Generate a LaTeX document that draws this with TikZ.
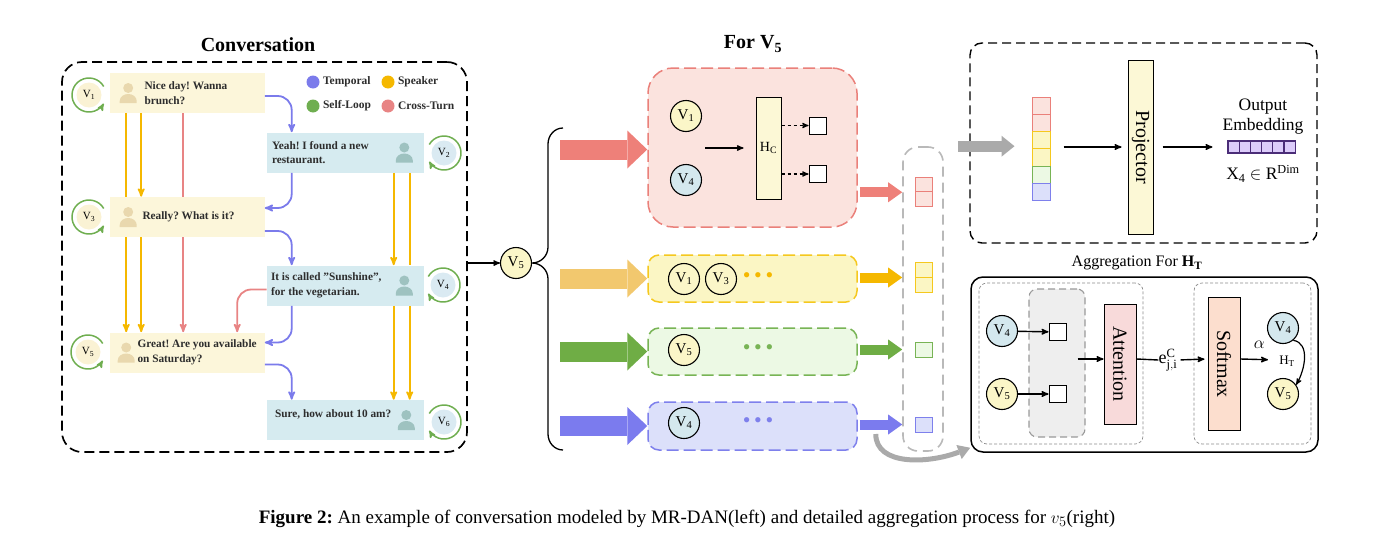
\documentclass[tikz,border=0pt]{standalone}
\usepackage{fontspec}
\setmainfont{Liberation Serif}
\usepackage{graphicx}
\usepackage{tikz}
\usetikzlibrary{arrows,arrows.meta,positioning,calc}
\frenchspacing
\definecolor{uttyellow}{RGB}{252,246,218}
\definecolor{uttblue}{RGB}{214,235,240}
\definecolor{iconyellow}{RGB}{233,216,174}
\definecolor{iconblue}{RGB}{158,194,192}
\definecolor{turnyellow}{RGB}{250,242,212}
\definecolor{turnblue}{RGB}{218,234,242}
\definecolor{tempblue}{RGB}{123,123,235}
\definecolor{spkyellow}{RGB}{245,184,0}
\definecolor{loopgreen}{RGB}{111,174,80}
\definecolor{crossred}{RGB}{232,132,132}
\definecolor{txtgray}{RGB}{45,45,45}
\definecolor{redfill}{RGB}{251,227,222}
\definecolor{redline}{RGB}{234,128,122}
\definecolor{redarrow}{RGB}{238,128,121}
\definecolor{yelfill}{RGB}{251,246,196}
\definecolor{yelline}{RGB}{245,200,30}
\definecolor{yelarrow}{RGB}{242,200,110}
\definecolor{grnfill}{RGB}{236,249,228}
\definecolor{grnline}{RGB}{120,180,85}
\definecolor{grnarrow}{RGB}{111,173,69}
\definecolor{blufill}{RGB}{220,224,250}
\definecolor{bluline}{RGB}{126,128,236}
\definecolor{bluarrow}{RGB}{123,123,238}
\definecolor{nodeyellow}{RGB}{251,246,200}
\definecolor{nodeblue}{RGB}{212,232,238}
\definecolor{hcfill}{RGB}{252,248,214}
\definecolor{attfill}{RGB}{248,218,218}
\definecolor{softfill}{RGB}{252,222,206}
\definecolor{embfill}{RGB}{220,204,250}
\definecolor{embline}{RGB}{75,45,120}
\definecolor{grayarrow}{RGB}{170,170,170}
\definecolor{colline}{RGB}{185,185,185}
\definecolor{grayfill}{RGB}{238,238,238}
\newcommand{\vlab}[1]{V\textsubscript{#1}}
\tikzset{person/.pic={
  \fill[#1] (0,-5) circle[radius=5pt];
  \fill[#1] (-8.5,10) -- (-8.5,8) to[out=90,in=180] (0,1) to[out=0,in=90] (8.5,8) -- (8.5,10) -- cycle;
}}

\begin{document}
\begin{tikzpicture}[>=stealth',x=1pt,y=-1pt,semithick]
 \tikzstyle{heading}=[inner sep=0pt,font=\fontsize{20}{24}\selectfont\bfseries]
 \tikzstyle{convbox}=[rectangle,draw,line width=1.7pt,dash pattern=on 10pt off 5pt,rounded corners=20pt,minimum width=405pt,minimum height=390pt]
 \tikzstyle{uttY}=[rectangle,fill=uttyellow,minimum width=155pt,minimum height=40pt,inner sep=0pt]
 \tikzstyle{uttB}=[rectangle,fill=uttblue,minimum width=157pt,minimum height=40pt,inner sep=0pt]
 \tikzstyle{say}=[anchor=west,align=left,inner sep=0pt,text=txtgray,font=\fontsize{11.3}{14.5}\selectfont\bfseries]
 \tikzstyle{vleft}=[circle,minimum size=25pt,inner sep=0pt,font=\fontsize{11}{12}\selectfont]
 \tikzstyle{selfloop}=[->,draw=loopgreen,line width=1.5pt]
 \tikzstyle{temporal}=[->,draw=tempblue,line width=1.8pt,rounded corners=14pt]
 \tikzstyle{speaker}=[draw=spkyellow,line width=1.8pt]
 \tikzstyle{crossturn}=[draw=crossred,line width=1.8pt,rounded corners=14pt]
 \tikzstyle{legdot}=[circle,minimum size=13pt,inner sep=0pt]
 \tikzstyle{legtext}=[inner sep=0pt,text=txtgray,font=\fontsize{11.5}{13}\selectfont\bfseries]
 \tikzstyle{vnode}=[circle,draw,line width=1.1pt,minimum size=31pt,inner sep=0pt,font=\fontsize{15}{17}\selectfont]
 \tikzstyle{relbox}=[rectangle,line width=1.5pt,dash pattern=on 12pt off 5pt,rounded corners=11pt,minimum width=209pt,minimum height=47pt]
 \tikzstyle{bigarrow}=[line width=20pt,-{Triangle[length=20pt,width=38pt,line width=0pt]}]
 \tikzstyle{midarrow}=[line width=10pt,shorten <=2pt,-{Triangle[length=14pt,width=20pt,line width=0pt]}]
 \tikzstyle{block}=[rectangle,draw,line width=1pt,inner sep=0pt,font=\fontsize{20}{24}\selectfont]
 \tikzstyle{slot}=[rectangle,draw,fill=white,line width=1pt,minimum size=17pt,inner sep=0pt]
 \tikzstyle{cell}=[rectangle,line width=1pt,minimum width=17pt,inner sep=0pt]
 \tikzstyle{ellip}=[inner sep=0pt,font=\fontsize{22}{24}\selectfont]
 \tikzstyle{labeltext}=[inner sep=0pt,font=\fontsize{17.5}{20}\selectfont]
 \tikzstyle{innerbox}=[rectangle,draw=black!45,line width=0.7pt,dash pattern=on 3pt off 2pt,rounded corners=8pt]

 % conversation graph
 \node[convbox] (conv) at (264.5,257) {};
 \node[heading] (convt) at (258,45) {Conversation};

 \node[uttY] (u1) at (187,93) {};
 \node[uttB] (u2) at (345.5,152.5) {};
 \node[uttY] (u3) at (187,217) {};
 \node[uttB] (u4) at (345.5,285.5) {};
 \node[uttY] (u5) at (187,352.5) {};
 \node[uttB] (u6) at (345.5,420) {};
 \pic at ([xshift=19pt]u1.west) {person=iconyellow};
 \pic at ([xshift=19pt]u3.west) {person=iconyellow};
 \pic at ([xshift=17pt]u5.west) {person=iconyellow};
 \pic at ([xshift=-20pt]u2.east) {person=iconblue};
 \pic at ([xshift=-20pt]u4.east) {person=iconblue};
 \pic at ([xshift=-18pt]u6.east) {person=iconblue};
 \node[say] (s1) at ([xshift=35pt]u1.west) {Nice day! Wanna\\brunch?};
 \node[say] (s2) at ([xshift=5pt]u2.west) {Yeah! I found a new\\restaurant.};
 \node[say] (s3) at ([xshift=33pt]u3.west) {Really? What is it?};
 \node[say] (s4) at ([xshift=4pt]u4.west) {It is called ''Sunshine'',\\for the vegetarian.};
 \node[say] (s5) at ([xshift=28pt]u5.west) {Great! Are you available\\on Saturday?};
 \node[say] (s6) at ([xshift=8pt,yshift=6pt]u6.west) {Sure, how about 10 am?};

 \node[vleft,fill=turnyellow] (v1) at (89,95) {\vlab1};
 \node[vleft,fill=turnblue] (v2) at (444,153) {\vlab2};
 \node[vleft,fill=turnyellow] (v3) at (89,217) {\vlab3};
 \node[vleft,fill=turnblue] (v4) at (443,285) {\vlab4};
 \node[vleft,fill=turnyellow] (v5) at (88,352) {\vlab5};
 \node[vleft,fill=turnblue] (v6) at (444,422) {\vlab6};
 \foreach \v in {v1,v3,v5}
   \draw[selfloop] ([shift={(30:17pt)}]\v.center) arc[start angle=30,end angle=330,radius=17pt];
 \foreach \v in {v2,v4,v6}
   \draw[selfloop] ([shift={(150:17pt)}]\v.center) arc[start angle=150,end angle=-150,radius=17pt];

 % legend
 \node[legdot,fill=tempblue] (lt) at (313,82) {};
 \node[legtext,right=3pt of lt] {Temporal};
 \node[legdot,fill=spkyellow] (ls) at (388,82) {};
 \node[legtext,right=3pt of ls] {Speaker};
 \node[legdot,fill=loopgreen] (ll) at (313,106) {};
 \node[legtext,right=3pt of ll] {Self-Loop};
 \node[legdot,fill=crossred] (lc) at (388,106) {};
 \node[legtext,right=3pt of lc] {Cross-Turn};

 % edges
 \draw[temporal] ([yshift=-3pt]u1.east) -| ([xshift=25pt]u2.north west);
 \draw[temporal] ([xshift=25pt]u2.south west) |- ([yshift=9pt]u3.east);
 \draw[temporal] ([yshift=-14pt]u3.east) -| ([xshift=25pt]u4.north west);
 \draw[temporal] ([xshift=25pt]u4.south west) |- ([yshift=10pt]u5.east);
 \draw[temporal] ([yshift=-12pt]u5.east) -| ([xshift=25pt]u6.north west);
 \draw[speaker] ([xshift=17pt]u1.south west) -- ([xshift=17pt]u3.north west);
 \draw[speaker,->] ([xshift=32pt]u1.south west) -- ([xshift=32pt]u3.north west);
 \draw[speaker,->] ([xshift=17pt]u3.south west) -- ([xshift=17pt]u5.north west);
 \draw[speaker,->] ([xshift=32pt]u3.south west) -- ([xshift=32pt]u5.north west);
 \draw[crossturn] ([xshift=74pt]u1.south west) -- ([xshift=74pt]u3.north west);
 \draw[crossturn,->] ([xshift=74pt]u3.south west) -- ([xshift=74pt]u5.north west);
 \draw[crossturn,->] ([yshift=-4pt]u4.west) -| ([xshift=128pt]u5.north west);
 \draw[speaker,->] ([xshift=127pt]u2.south west) -- ([xshift=127pt]u4.north west);
 \draw[speaker] ([xshift=143pt]u2.south west) -- ([xshift=143pt]u4.north west);
 \draw[speaker,->] ([xshift=127pt]u4.south west) -- ([xshift=127pt]u6.north west);
 \draw[speaker,->] ([xshift=143pt]u4.south west) -- ([xshift=143pt]u6.north west);

 % relations for v5
 \node[vnode,fill=nodeyellow] (hub) at (516,263) {\vlab5};
 \draw[->,line width=1.3pt] (conv.east |- hub) -- (hub);
 \draw[line width=1.3pt] (563,128) to[out=180,in=90] (548,144) -- (548,247) to[out=-90,in=0] (532,263)
   to[out=0,in=90] (548,279) -- (548,434) to[out=-90,in=180] (563,450);
 \node[heading] (fort) at (753,44) {For \vlab5};

 \node[relbox,draw=redline,fill=redfill,minimum height=159pt,rounded corners=25pt] (rbox) at (752.5,147.5) {};
 \node[relbox,draw=yelline,fill=yelfill] (ybox) at (752.5,278.5) {};
 \node[relbox,draw=grnline,fill=grnfill] (gbox) at (752.5,351.5) {};
 \node[relbox,draw=bluline,fill=blufill,minimum height=48pt] (bbox) at (752.5,426) {};
 \draw[bigarrow,draw=redarrow] ([xshift=-87pt,yshift=-2pt]rbox.west) -- ([yshift=-2pt]rbox.west);
 \draw[bigarrow,draw=yelarrow] ([xshift=-87pt]ybox.west) -- (ybox.west);
 \draw[bigarrow,draw=grnarrow] ([xshift=-87pt]gbox.west) -- (gbox.west);
 \draw[bigarrow,draw=bluarrow] ([xshift=-87pt]bbox.west) -- (bbox.west);

 \node[vnode,fill=nodeyellow] (rv1) at (686,116) {\vlab1};
 \node[vnode,fill=nodeblue] (rv4) at (686,180) {\vlab4};
 \node[block,fill=hcfill,minimum width=25pt,minimum height=102pt,font=\fontsize{14}{16}\selectfont] (hc) at (768.5,148) {H\textsubscript{C}};
 \draw[->,line width=1.3pt,shorten >=12pt] ([xshift=19pt]$(rv1)!0.5!(rv4)$) -- (hc.west);
 \node[slot] (sq1) at (817.5,125.5) {};
 \node[slot] (sq2) at (817.5,174) {};
 \draw[->,dashed,line width=1.2pt] (hc.east |- sq1) -- (sq1);
 \draw[->,dashed,line width=1.2pt] (hc.east |- sq2) -- (sq2);

 \node[vnode,fill=nodeyellow] (yv1) at (684,279) {\vlab1};
 \node[vnode,fill=nodeyellow] (yv3) at (721,279) {\vlab3};
 \node[ellip,text=spkyellow] (yd) at (758,278) {\textbullet\,\textbullet\,\textbullet};
 \node[vnode,fill=nodeyellow] (gv5) at (684,350) {\vlab5};
 \node[ellip,text=grnline] (gd) at (758,350) {\textbullet\,\textbullet\,\textbullet};
 \node[vnode,fill=nodeblue] (bv) at (684,423) {\vlab4};
 \node[ellip,text=bluline] (bd) at (758,423) {\textbullet\,\textbullet\,\textbullet};

 % gathered vectors
 \node[rectangle,draw=colline,line width=1.6pt,dash pattern=on 10pt off 6pt,rounded corners=15pt,minimum width=40pt,minimum height=304pt] (col) at (923,299) {};
 \node[cell,draw=redline,fill=redfill,minimum height=14.5pt] (rc1) at (923.5,184.5) {};
 \node[cell,draw=redline,fill=redfill,minimum height=14.5pt] (rc2) at (923.5,199) {};
 \node[cell,draw=yelline,fill=yelfill,minimum height=15pt] (yc1) at (923.5,269.5) {};
 \node[cell,draw=yelline,fill=yelfill,minimum height=15pt] (yc2) at (923.5,284.5) {};
 \node[cell,draw=grnline,fill=grnfill,minimum height=15pt] (gc1) at (923.5,349.5) {};
 \node[cell,draw=bluline,fill=blufill,minimum height=15pt] (bc1) at (923.5,424.5) {};
 \draw[midarrow,draw=redarrow] (rbox.east |- rc1.south) -- (col.west |- rc1.south);
 \draw[midarrow,draw=spkyellow] (ybox.east |- yc1.south) -- (col.west |- yc1.south);
 \draw[midarrow,draw=grnarrow] (gbox.east |- gc1) -- (col.west |- gc1);
 \draw[midarrow,draw=bluarrow] (bbox.east |- bc1) -- (col.west |- bc1);

 % projector
 \node[rectangle,draw,line width=1.4pt,dash pattern=on 9pt off 5pt,rounded corners=12pt,minimum width=347pt,minimum height=200pt] (pbox) at (1143.5,143) {};
 \foreach \f/\d [count=\i] in {redfill/redline,redfill/redline,yelfill/yelline,yelfill/yelline,grnfill/grnline,blufill/bluline}
   \node[cell,fill=\f,draw=\d,minimum width=18pt,minimum height=17.3pt] (st\i) at (1041,{97+17.3*(\i-0.5)}) {};
 \draw[draw=grayarrow,line width=11pt,shorten <=14pt,shorten >=17pt,-{Triangle[length=13pt,width=21pt,line width=0pt]}]
   (col.north east) -- (col.north east -| st1.west);
 \node[block,fill=hcfill,minimum width=25pt,minimum height=174pt] (proj) at (1140.5,147) {\rotatebox{-90}{Projector}};
 \draw[->,line width=1.4pt,shorten <=13pt,shorten >=6pt] (st1.east |- proj) -- (proj.west);
 \foreach \i in {1,...,6}
   \node[rectangle,draw=embline,fill=embfill,line width=1.1pt,minimum width=11.2pt,minimum height=12pt,inner sep=0pt] (e\i) at ({1228+11.2*(\i-0.5)},147) {};
 \draw[->,line width=1.4pt,shorten <=9pt,shorten >=15pt] (proj.east) -- (e1.west);
 \node[labeltext,align=center] (oe) at (1263,117) {Output\\Embedding};
 \node[labeltext] (xdim) at (1263,174) {X\textsubscript{4} $\in$ R\textsuperscript{Dim}};

 % aggregation
 \node[inner sep=0pt,font=\fontsize{16}{19}\selectfont] (aggt) at (1137,263) {Aggregation For \textbf{H\textsubscript{T}}};
 \node[rectangle,draw,line width=1.5pt,rounded corners=12pt,minimum width=347pt,minimum height=175pt] (agg) at (1144.5,364.5) {};
 \node[innerbox,minimum width=164pt,minimum height=161pt] (ina) at (1061,363.5) {};
 \node[innerbox,minimum width=117pt,minimum height=161pt] (inb) at (1252.5,363.5) {};
 \node[rectangle,draw=black!40,fill=grayfill,line width=1.1pt,dash pattern=on 7pt off 4pt,rounded corners=8pt,minimum width=56pt,minimum height=148pt] (gbx) at (1057,363) {};
 \node[vnode,fill=nodeblue] (av4) at (1002,331) {\vlab4};
 \node[vnode,fill=nodeyellow] (av5) at (1002,394) {\vlab5};
 \node[slot] (as4) at (1057.5,332) {};
 \node[slot] (as5) at (1057.5,394) {};
 \draw[->,line width=1.4pt] (av4) -- (as4);
 \draw[->,line width=1.4pt] (av5) -- (as5);
 \node[block,fill=attfill,minimum width=32pt,minimum height=120pt] (att) at (1120,364) {\rotatebox{-90}{Attention}};
 \draw[->,line width=1.4pt] ([xshift=-8pt,yshift=5pt]gbx.east |- att) -- ([yshift=5pt]att.west);
 \node[inner sep=0pt,font=\fontsize{18}{22}\selectfont] (eji) at (1168,360) {$\mathrm{e}^{\mathrm{C}}_{\mathrm{j,i}}$};
 \draw[line width=1.4pt] ([yshift=5pt]att.east) -- (eji.west);
 \node[block,fill=softfill,minimum width=32pt,minimum height=133pt] (soft) at (1224,364) {\rotatebox{-90}{Softmax}};
 \draw[->,line width=1.4pt,shorten <=3pt,shorten >=3pt] (eji.east) -- ([yshift=5pt]soft.west);
 \node[vnode,fill=nodeblue] (bv4) at (1283,328) {\vlab4};
 \node[vnode,fill=nodeyellow] (bv5) at (1283,394) {\vlab5};
 \node[inner sep=1pt,font=\fontsize{13}{15}\selectfont] (ht) at (1287,361) {H\textsubscript{T}};
 \draw[->,line width=1.4pt,shorten >=10pt] ([yshift=5pt]soft.east) -- (ht.west |- eji) node[midway,above=7pt,font=\fontsize{16}{18}\selectfont] {$\alpha$};
 \draw[->,line width=1.2pt] (bv4.-50) to[out=-10,in=60] (bv5.35);
 \draw[draw=grayarrow,line width=5pt,-{Triangle[length=12pt,width=15pt,line width=0pt]}]
   ([xshift=18pt,yshift=-8pt]bbox.east) .. controls +(0,32) and +(-42,16) .. ([yshift=5pt]agg.south west);

 \node[font=\fontsize{19}{23}\selectfont] (cap) at (687,519) {\textbf{Figure 2:} An example of conversation modeled by MR-DAN(left) and detailed aggregation process for $v_5$(right)};
 \useasboundingbox (0,0) rectangle (1373,557);
\end{tikzpicture}
\end{document}
